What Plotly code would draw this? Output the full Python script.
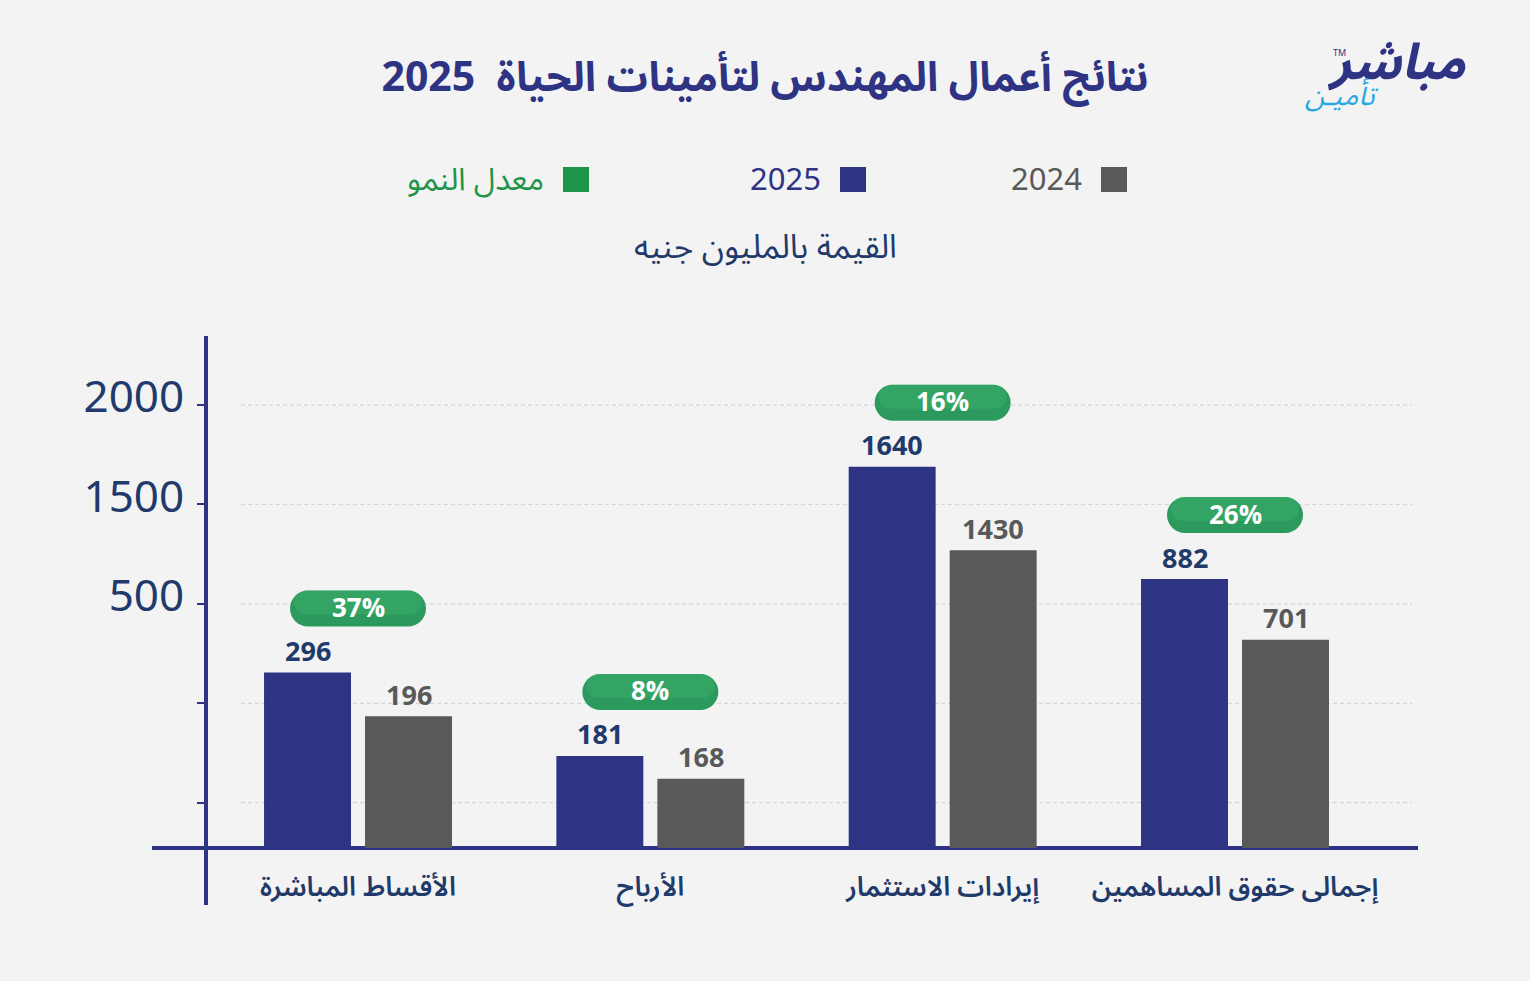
import plotly.graph_objects as go

categories = ["الأقساط المباشرة", "الأرباح", "إيرادات الاستثمار", "إجمالى حقوق المساهمين"]
values_2025 = [296, 181, 1640, 882]
values_2024 = [196, 168, 1430, 701]
growth = ["37%", "8%", "16%", "26%"]

# bars in the original are not drawn to scale, heights are read off the picture
# in gridline steps (lowest dashed line = 1, top dashed line = 5)
heights_2025 = [2.31, 1.47, 4.38, 3.25]
heights_2024 = [1.87, 1.24, 3.54, 2.64]
grid_steps = [1, 2, 3, 4, 5]
grid_labels = ["", "", "500", "1500", "2000"]

NAVY = "#2e3383"
GRAY = "#595959"
GREEN = "#1e9448"
PILL = "#2b9a5c"
INK = "#1f3a6b"
BG = "#f3f3f3"
FONT = "Noto Sans Arabic, Noto Sans, DejaVu Sans, sans-serif"

W, H = 1530, 981
L, R, T, B = 206, 112, 336, 133
PW, PH = W - L - R, H - T - B
SLOT = 101  # px from group centre to each bar centre is SLOT / 2


def px(x):
    return (x - L) / PW


def py(y):
    return (H - B - y) / PH


def pill_path(a, r, dy):
    # rounded capsule, pixel units around the anchor, dy = lift above it
    s, k = a - r, 0.5523 * r
    return (f"M{-s},{dy - r} L{s},{dy - r} "
            f"C{s + k},{dy - r} {a},{dy - k} {a},{dy} "
            f"C{a},{dy + k} {s + k},{dy + r} {s},{dy + r} "
            f"L{-s},{dy + r} "
            f"C{-s - k},{dy + r} {-a},{dy + k} {-a},{dy} "
            f"C{-a},{dy - k} {-s - k},{dy - r} {-s},{dy - r} Z")


def note(x, y, text, size, color, **kw):
    fig.add_annotation(xref="paper", yref="paper", x=x, y=y, text=text, showarrow=False,
                       xanchor=kw.pop("xanchor", "center"), yanchor="middle",
                       font=dict(family=FONT, size=size, color=color, **kw))


x = list(range(len(categories)))

fig = go.Figure()
fig.add_bar(x=x, y=heights_2025, name="2025", marker_color=NAVY, marker_line_width=0,
            hoverinfo="skip")
fig.add_bar(x=x, y=heights_2024, name="2024", marker_color=GRAY, marker_line_width=0,
            hoverinfo="skip")

# value labels over the bars
for i in x:
    fig.add_annotation(x=i, y=heights_2025[i], xshift=-SLOT / 2, yshift=20, text=str(values_2025[i]),
                       showarrow=False, font=dict(family=FONT, size=27, color=INK, weight="bold"))
    fig.add_annotation(x=i, y=heights_2024[i], xshift=SLOT / 2, yshift=20, text=str(values_2024[i]),
                       showarrow=False, font=dict(family=FONT, size=27, color=GRAY, weight="bold"))

# dashed gridlines
for g in grid_steps:
    fig.add_shape(type="line", xref="paper", yref="y", x0=px(241), x1=px(1412), y0=g, y1=g,
                  line=dict(color="#d6d6d6", width=1.2, dash="4px,3px"), layer="below")

# axis lines
fig.add_shape(type="line", xref="paper", yref="paper", x0=px(152), x1=1, y0=0, y1=0,
              line=dict(color=NAVY, width=4), layer="below")
fig.add_shape(type="line", xref="paper", yref="paper", x0=0, x1=0, y0=py(905), y1=1,
              line=dict(color=NAVY, width=4))

# growth pills
for i, g in enumerate(growth):
    fig.add_shape(type="path", xref="x", yref="y", xsizemode="pixel", ysizemode="pixel",
                  xanchor=i, yanchor=heights_2025[i], path=pill_path(68, 18, 64),
                  fillcolor=PILL, line_width=0)
    fig.add_shape(type="path", xref="x", yref="y", xsizemode="pixel", ysizemode="pixel",
                  xanchor=i, yanchor=heights_2025[i], path=pill_path(64, 12, 70),
                  fillcolor="#45b775", opacity=0.35, line_width=0)
    fig.add_annotation(x=i, y=heights_2025[i], yshift=64, text=g, showarrow=False,
                       font=dict(family=FONT, size=26, color="white", weight="bold"))

# legend row
for label, color, sq in [("2024", GRAY, 1101), ("2025", NAVY, 840), ("معدل النمو", GREEN, 563)]:
    fig.add_shape(type="rect", xref="paper", yref="paper", x0=px(sq), x1=px(sq + 26),
                  y0=py(192), y1=py(167), fillcolor=color, line_width=0)
    note(px(sq - 17), py(180), label, 31, color, xanchor="right")

note(px(765), py(247), "القيمة بالمليون جنيه", 33, INK)

# logo
note(px(1396), py(63), "مباشر", 50, NAVY, weight="bold", style="italic")
note(px(1341), py(96), "تأميـن", 28, "#29a8e0", style="italic")
note(px(1339), py(53), "TM", 9, NAVY)

fig.update_layout(
    width=W, height=H,
    margin=dict(l=L, r=R, t=T, b=B),
    paper_bgcolor=BG, plot_bgcolor=BG,
    barmode="group", bargap=0.309, bargroupgap=0.139,
    showlegend=False,
    title=dict(text="نتائج أعمال المهندس لتأمينات الحياة  2025", x=0.5, xanchor="center",
               y=1 - 77 / H, yanchor="middle",
               font=dict(family=FONT, size=41, color=NAVY, weight="bold")),
)
fig.update_xaxes(range=[-0.52, 3.626], tickvals=x, ticktext=categories, showgrid=False,
                 zeroline=False, showline=False, ticks="", ticklabelstandoff=20,
                 tickfont=dict(family=FONT, size=27, color=INK, weight=600))
fig.update_yaxes(range=[0.544, 5.695], tickvals=grid_steps, ticktext=grid_labels,
                 ticks="outside", ticklen=8, tickwidth=2, tickcolor=NAVY,
                 showgrid=False, zeroline=False, showline=False,
                 ticklabelstandoff=4, ticklabelshift=-8,
                 tickfont=dict(family=FONT, size=44, color=INK))

fig.write_html("out.html", config={"displayModeBar": False},
               post_script="document.body.style.margin='0';")
